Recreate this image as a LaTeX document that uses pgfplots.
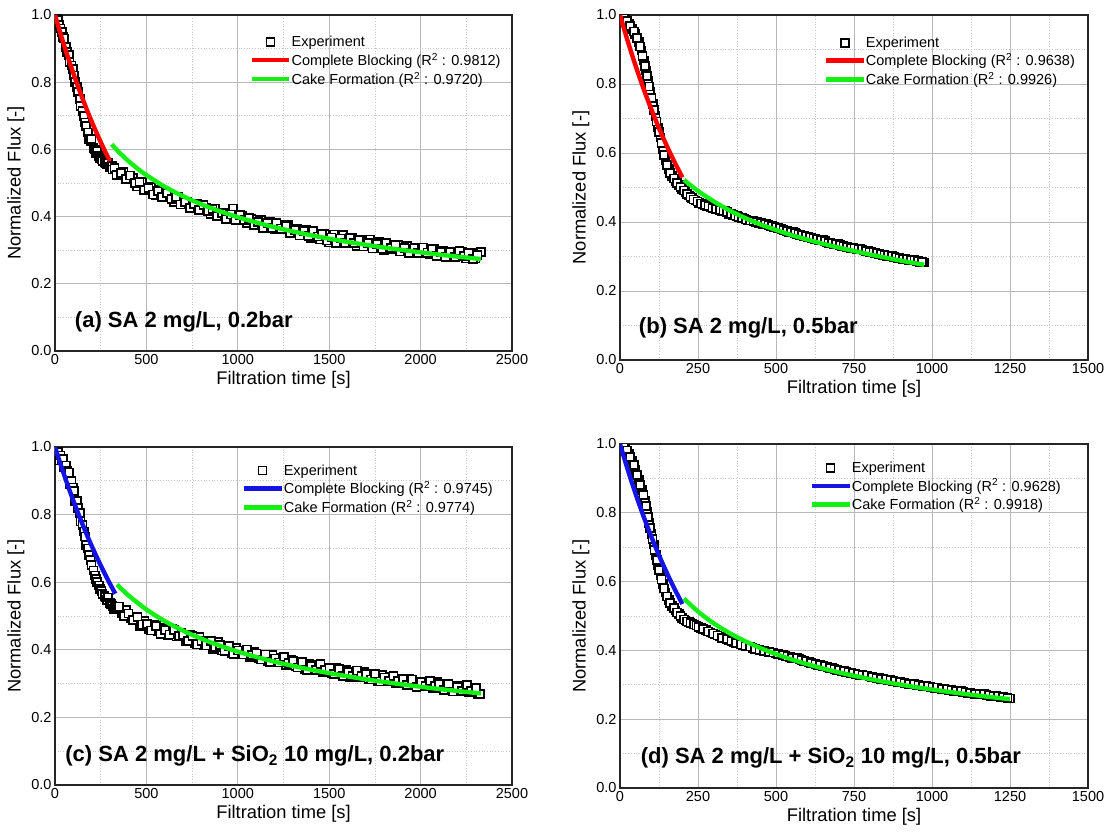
\documentclass[border=0pt]{standalone}
\usepackage{fontspec}
\setmainfont{Liberation Sans}
\usepackage{pgfplots}
\pgfplotsset{compat=1.18}
\definecolor{myred}{RGB}{255,0,0}
\definecolor{mygreen}{RGB}{20,240,20}
\definecolor{myblue}{RGB}{20,20,230}
\tikzset{plabel/.style={anchor=west, font=\fontsize{22}{25}\selectfont\bfseries}}
\pgfplotsset{
 panel/.style={
  scale only axis,
  ymin=0, ymax=1,
  ytick={0,0.2,0.4,0.6,0.8,1.0},
  minor x tick num=1, minor y tick num=1,
  grid=both,
  major grid style={draw=black!28, line width=0.9pt},
  minor grid style={draw=black!22, line width=0.7pt, dotted},
  major tick length=0pt, minor tick length=0pt,
  axis line style={draw=black!85, line width=1.4pt},
  tick label style={font=\fontsize{14.5}{16}\selectfont},
  /pgf/number format/assume math mode=true,
  yticklabel style={/pgf/number format/.cd, fixed, fixed zerofill, precision=1},
  xticklabel style={/pgf/number format/.cd, fixed, 1000 sep={}},
  label style={font=\fontsize{18.3}{21}\selectfont},
  xlabel={Filtration time [s]},
  ylabel={Normalized Flux [-]},
  clip marker paths=true,
  legend cell align=left,
  legend style={draw=none, fill=none, font=\fontsize{14.5}{16}\selectfont, anchor=north west, row sep=4pt, nodes={inner sep=0.5pt}},
  legend image code/.code={\draw[mark repeat=2,mark phase=2,##1] plot coordinates {(0pt,0pt)(18.5pt,0pt)(37pt,0pt)};},
 },
 exper/.style={only marks, mark=square*, mark size=4pt, mark options={fill=white, draw=black, line width=1.7pt}},
 fit/.style={line width=4.4pt, no marks, smooth},
}
\begin{document}
\begin{tikzpicture}
\path[use as bounding box] (0pt,0pt) rectangle (1111pt,831pt);

% ---------------- (a)
\begin{axis}[panel, at={(55pt,480pt)}, anchor=south west, width=457pt, height=336pt,
  xmin=0, xmax=2500, xtick={0,500,1000,1500,2000,2500},
  legend style={at={(0.419,0.945)}}]
\addplot[exper] coordinates {
(0,1.000)(7,0.990)(15,0.985)(20,0.970)(30,0.960)(37,0.950)(45,0.935)(50,0.930)(60,0.905)(67,0.890)
(75,0.880)(80,0.860)(90,0.850)(97,0.840)(105,0.820)(110,0.800)(120,0.785)(127,0.770)(135,0.750)
(140,0.730)(150,0.715)(157,0.700)(165,0.680)(170,0.670)(180,0.650)(187,0.630)(195,0.625)(200,0.630)
(210,0.605)(217,0.600)(225,0.590)(230,0.595)(240,0.580)(247,0.575)(255,0.570)(260,0.565)(270,0.562)
(277,0.560)(285,0.555)(290,0.560)(300,0.548)(310,0.550)(315,0.540)
(325,0.545)(350,0.522)(375,0.532)(400,0.511)(425,0.514)(450,0.490)(475,0.504)(500,0.479)(525,0.488)
(550,0.465)(575,0.479)(600,0.458)(625,0.465)(650,0.444)(675,0.459)(700,0.439)(725,0.445)(750,0.425)
(775,0.439)(800,0.420)(825,0.426)(850,0.407)(875,0.424)(900,0.402)(925,0.411)(950,0.391)(975,0.424)
(1000,0.391)(1025,0.401)(1050,0.380)(1075,0.392)(1100,0.375)(1125,0.390)(1150,0.371)(1175,0.384)
(1200,0.362)(1225,0.376)(1250,0.362)(1275,0.374)(1300,0.351)(1325,0.363)(1350,0.346)(1375,0.361)
(1400,0.336)(1425,0.350)(1450,0.332)(1475,0.348)(1500,0.323)(1525,0.347)(1550,0.326)(1575,0.346)
(1600,0.320)(1625,0.336)(1650,0.312)(1675,0.330)(1700,0.314)(1725,0.332)(1750,0.308)(1775,0.324)
(1800,0.300)(1825,0.316)(1850,0.304)(1875,0.315)(1900,0.297)(1925,0.313)(1950,0.296)(1975,0.308)
(2000,0.290)(2025,0.303)(2050,0.289)(2075,0.304)(2100,0.284)(2125,0.297)(2150,0.280)(2175,0.296)
(2200,0.281)(2225,0.294)(2250,0.275)(2275,0.292)(2300,0.275)(2330,0.295)
(337,0.523)(362,0.530)(387,0.511)(412,0.522)(437,0.501)(462,0.503)(487,0.479)(512,0.485)(537,0.466)
(562,0.476)(587,0.458)(612,0.471)(637,0.453)(662,0.458)(687,0.436)(712,0.443)(737,0.425)(762,0.437)
(787,0.420)(812,0.434)(837,0.417)(862,0.423)(887,0.402)(912,0.410)(937,0.393)(962,0.406)(987,0.390)
(1012,0.405)(1037,0.389)(1062,0.395)(1087,0.375)(1112,0.384)(1137,0.367)(1162,0.380)(1187,0.366)
(1212,0.381)(1237,0.365)(1262,0.372)(1287,0.352)(1312,0.361)(1337,0.344)(1362,0.357)(1387,0.342)
(1412,0.357)(1437,0.341)(1462,0.348)(1487,0.329)(1512,0.338)(1537,0.322)(1562,0.335)(1587,0.321)
(1612,0.337)(1637,0.322)(1662,0.330)(1687,0.311)(1712,0.321)(1737,0.305)(1762,0.319)(1787,0.305)
(1812,0.321)(1837,0.306)(1862,0.315)(1887,0.296)(1912,0.306)(1937,0.291)(1962,0.305)(1987,0.291)
(2012,0.308)(2037,0.293)(2062,0.302)(2087,0.283)(2112,0.294)(2137,0.279)(2162,0.293)(2187,0.280)
(2212,0.297)(2237,0.283)(2262,0.292)(2287,0.274)(2312,0.285)};
\addlegendentry{Experiment}
\addplot[fit, myred] coordinates {
(0,1)(25,0.9536)(50,0.9094)(75,0.8672)(100,0.8270)(125,0.7886)(150,0.7520)(175,0.7171)(200,0.6839)
(225,0.6522)(250,0.6219)(275,0.5930)(300,0.5655)};
\addlegendentry{Complete Blocking (R\textsuperscript{2} : 0.9812)}
\addplot[fit, mygreen] coordinates {
(310,0.615)(350,0.5918)(400,0.566)(450,0.5435)(500,0.5234)(600,0.4891)(700,0.4608)(800,0.4368)
(900,0.4163)(1000,0.3984)(1100,0.3826)(1200,0.3686)(1300,0.3560)(1400,0.3446)(1500,0.3343)
(1600,0.3248)(1700,0.3161)(1800,0.3080)(1900,0.3006)(2000,0.2936)(2100,0.2871)(2200,0.2810)(2330,0.2737)};
\addlegendentry{Cake Formation (R\textsuperscript{2} : 0.9720)}
\node[plabel] at (rel axis cs:0.036,0.086) {(a) SA 2 mg/L, 0.2bar};
\end{axis}

% ---------------- (b)
\begin{axis}[panel, at={(620pt,471pt)}, anchor=south west, width=468pt, height=345pt,
  xmin=0, xmax=1500, xtick={0,250,500,750,1000,1250,1500},
  legend style={at={(0.429,0.945)}}]
\addplot[exper] coordinates {
(0,1.000)(8,0.995)(17,0.989)(28,0.975)(39,0.960)(49,0.944)(60,0.921)(69,0.897)(76,0.868)(84,0.839)
(90,0.810)(97,0.776)(105,0.742)(114,0.708)(121,0.674)(130,0.645)(137,0.611)(146,0.578)(156,0.553)
(167,0.534)(178,0.519)(189,0.507)(199,0.496)(210,0.486)(221,0.477)(231,0.469)(242,0.462)
(4,0.998)(12,0.992)(22,0.982)(33,0.968)(44,0.952)(54,0.933)(64,0.909)(72,0.882)(80,0.853)(87,0.824)
(93,0.793)(101,0.759)(109,0.725)(117,0.691)(125,0.660)(133,0.628)(141,0.595)(151,0.565)(161,0.543)
(172,0.526)(183,0.513)(194,0.501)(204,0.491)(215,0.481)(226,0.473)(236,0.465)
(254,0.456)(266,0.452)(278,0.447)(290,0.444)(302,0.439)(314,0.436)(326,0.432)(338,0.431)(350,0.424)
(362,0.421)(374,0.417)(386,0.413)(398,0.410)(410,0.404)(422,0.404)(434,0.401)(446,0.398)(458,0.395)
(470,0.395)(482,0.389)(494,0.386)(506,0.382)(518,0.379)(530,0.375)(542,0.371)(554,0.370)(566,0.365)
(578,0.362)(590,0.359)(602,0.356)(614,0.353)(626,0.350)(638,0.347)(650,0.347)(662,0.341)(674,0.339)
(686,0.336)(698,0.336)(710,0.331)(722,0.329)(734,0.326)(746,0.324)(758,0.322)(770,0.322)(782,0.317)
(794,0.315)(806,0.313)(818,0.310)(830,0.307)(842,0.305)(854,0.302)(866,0.303)(878,0.298)(890,0.296)
(902,0.294)(914,0.292)(926,0.290)(938,0.291)(950,0.287)(962,0.285)(975,0.283)
(248,0.459)(260,0.454)(272,0.450)(284,0.446)(296,0.441)(308,0.437)(320,0.434)(332,0.432)(344,0.428)
(356,0.423)(368,0.419)(380,0.415)(392,0.412)(404,0.407)(416,0.404)(428,0.403)(440,0.400)(452,0.397)
(464,0.395)(476,0.392)(488,0.388)(500,0.384)(512,0.381)(524,0.377)(536,0.373)(548,0.371)(560,0.368)
(572,0.364)(584,0.361)(596,0.358)(608,0.355)(620,0.352)(632,0.349)(644,0.347)(656,0.344)(668,0.340)
(680,0.338)(692,0.336)(704,0.334)(716,0.330)(728,0.328)(740,0.325)(752,0.323)(764,0.322)(776,0.320)
(788,0.316)(800,0.314)(812,0.312)(824,0.309)(836,0.306)(848,0.304)(860,0.303)(872,0.301)(884,0.297)
(896,0.295)(908,0.293)(920,0.291)(932,0.290)(944,0.289)(956,0.286)(968,0.284)};
\addlegendentry{Experiment}
\addplot[fit, myred] coordinates {
(0,1)(20,0.9384)(40,0.8806)(60,0.8263)(80,0.7754)(100,0.7276)(120,0.6828)(140,0.6407)(160,0.6012)
(180,0.5642)(200,0.5294)};
\addlegendentry{Complete Blocking (R\textsuperscript{2} : 0.9638)}
\addplot[fit, mygreen] coordinates {
(205,0.522)(250,0.490)(300,0.460)(350,0.434)(400,0.412)(450,0.393)(500,0.377)(550,0.362)(600,0.349)
(650,0.337)(700,0.326)(750,0.316)(800,0.306)(850,0.297)(900,0.288)(975,0.276)};
\addlegendentry{Cake Formation (R\textsuperscript{2} : 0.9926)}
\node[plabel] at (rel axis cs:0.033,0.093) {(b) SA 2 mg/L, 0.5bar};
\end{axis}

% ---------------- (c)
\begin{axis}[panel, at={(55pt,46pt)}, anchor=south west, width=457pt, height=338pt,
  xmin=0, xmax=2500, xtick={0,500,1000,1500,2000,2500},
  legend style={at={(0.402,0.956)}}]
\addplot[exper] coordinates {
(0,1.000)(7,0.990)(15,0.985)(20,0.960)(30,0.975)(37,0.960)(45,0.965)(50,0.940)(60,0.945)(67,0.930)
(75,0.925)(80,0.890)(90,0.900)(97,0.880)(105,0.870)(110,0.840)(120,0.840)(127,0.820)(135,0.805)
(140,0.780)(150,0.770)(157,0.750)(165,0.735)(170,0.710)(180,0.700)(187,0.680)(195,0.665)(200,0.650)
(210,0.635)(217,0.620)(225,0.610)(230,0.600)(240,0.590)(247,0.580)(255,0.575)(260,0.565)(270,0.560)
(277,0.555)(285,0.548)(290,0.555)(300,0.538)(307,0.535)(315,0.530)(320,0.520)(330,0.525)
(340,0.528)(365,0.507)(390,0.518)(415,0.494)(440,0.497)(465,0.471)(490,0.485)(515,0.460)(540,0.474)
(565,0.454)(590,0.464)(615,0.443)(640,0.461)(665,0.439)(690,0.449)(715,0.427)(740,0.443)(765,0.421)
(790,0.437)(815,0.415)(840,0.425)(865,0.403)(890,0.423)(915,0.398)(940,0.409)(965,0.390)(990,0.406)
(1015,0.387)(1040,0.398)(1065,0.379)(1090,0.394)(1115,0.375)(1140,0.386)(1165,0.365)(1190,0.384)
(1215,0.363)(1240,0.375)(1265,0.356)(1290,0.371)(1315,0.352)(1340,0.364)(1365,0.343)(1390,0.359)
(1415,0.342)(1440,0.356)(1465,0.335)(1490,0.347)(1515,0.331)(1540,0.346)(1565,0.328)(1590,0.340)
(1615,0.320)(1640,0.336)(1665,0.320)(1690,0.334)(1715,0.314)(1740,0.326)(1765,0.308)(1790,0.326)
(1815,0.308)(1840,0.320)(1865,0.302)(1890,0.314)(1915,0.300)(1940,0.314)(1965,0.294)(1990,0.306)
(2015,0.293)(2040,0.305)(2065,0.287)(2090,0.304)(2115,0.286)(2140,0.298)(2165,0.280)(2190,0.293)
(2215,0.279)(2240,0.292)(2265,0.274)(2290,0.286)(2315,0.269)(2325,0.270)
(352,0.528)(377,0.501)(402,0.507)(427,0.489)(452,0.497)(477,0.475)(502,0.477)(527,0.457)(552,0.471)
(577,0.447)(602,0.458)(627,0.445)(652,0.459)(677,0.441)(702,0.445)(727,0.426)(752,0.440)(777,0.416)
(802,0.426)(827,0.413)(852,0.427)(877,0.409)(902,0.414)(927,0.396)(952,0.411)(977,0.387)(1002,0.398)
(1027,0.386)(1052,0.401)(1077,0.384)(1102,0.389)(1127,0.371)(1152,0.386)(1177,0.363)(1202,0.374)
(1227,0.362)(1252,0.378)(1277,0.361)(1302,0.366)(1327,0.348)(1352,0.364)(1377,0.341)(1402,0.353)
(1427,0.341)(1452,0.357)(1477,0.340)(1502,0.346)(1527,0.329)(1552,0.344)(1577,0.322)(1602,0.334)
(1627,0.323)(1652,0.339)(1677,0.323)(1702,0.329)(1727,0.312)(1752,0.328)(1777,0.306)(1802,0.318)
(1827,0.307)(1852,0.323)(1877,0.307)(1902,0.313)(1927,0.296)(1952,0.312)(1977,0.290)(2002,0.303)
(2027,0.292)(2052,0.308)(2077,0.293)(2102,0.299)(2127,0.282)(2152,0.298)(2177,0.277)(2202,0.289)
(2227,0.279)(2252,0.295)(2277,0.279)(2302,0.286)};
\addlegendentry{Experiment}
\addplot[fit, myblue] coordinates {
(0,1)(25,0.9578)(50,0.9174)(75,0.8786)(100,0.8416)(125,0.8061)(150,0.7720)(175,0.7394)(200,0.7082)
(225,0.6784)(250,0.6497)(275,0.6223)(300,0.5960)(330,0.5659)};
\addlegendentry{Complete Blocking (R\textsuperscript{2} : 0.9745)}
\addplot[fit, mygreen] coordinates {
(340,0.5931)(400,0.5618)(500,0.5192)(600,0.4850)(700,0.4567)(800,0.4329)(900,0.4125)(1000,0.3947)
(1100,0.3790)(1200,0.3651)(1300,0.3525)(1400,0.3412)(1500,0.3310)(1600,0.3215)(1700,0.3129)
(1800,0.3049)(1900,0.2975)(2000,0.2906)(2100,0.2842)(2200,0.2782)(2330,0.2709)};
\addlegendentry{Cake Formation (R\textsuperscript{2} : 0.9774)}
\node[plabel] at (rel axis cs:0.015,0.086) {(c) SA 2 mg/L + SiO\textsubscript{2} 10 mg/L, 0.2bar};
\end{axis}

% ---------------- (d)
\begin{axis}[panel, at={(620pt,43pt)}, anchor=south west, width=468pt, height=344pt,
  xmin=0, xmax=1500, xtick={0,250,500,750,1000,1250,1500},
  legend style={at={(0.399,0.956)}}]
\addplot[exper] coordinates {
(0,1.000)(8,0.996)(17,0.990)(28,0.971)(39,0.952)(49,0.924)(60,0.895)(71,0.866)(79,0.835)(87,0.803)
(94,0.771)(101,0.739)(108,0.708)(115,0.677)(122,0.648)(130,0.619)(137,0.593)(146,0.568)(156,0.547)
(167,0.530)(178,0.516)(189,0.505)(199,0.494)(210,0.487)(221,0.482)(231,0.478)
(4,0.998)(12,0.993)(22,0.981)(33,0.962)(44,0.938)(54,0.910)(65,0.881)(75,0.851)(83,0.819)(90,0.787)
(97,0.755)(104,0.723)(111,0.692)(118,0.662)(126,0.633)(133,0.606)(141,0.580)(151,0.557)(161,0.538)
(172,0.523)(183,0.510)(194,0.499)(204,0.490)(215,0.484)(226,0.480)(238,0.475)
(245,0.472)(260,0.466)(275,0.459)(290,0.452)(305,0.446)(320,0.440)(335,0.435)(350,0.430)(365,0.425)
(380,0.420)(395,0.415)(410,0.411)(425,0.407)(440,0.403)(455,0.400)(470,0.397)(485,0.394)(500,0.391)
(515,0.388)(530,0.384)(545,0.380)(560,0.377)(575,0.374)(590,0.370)(605,0.366)(620,0.362)(635,0.358)
(650,0.355)(665,0.351)(680,0.348)(695,0.344)(710,0.341)(725,0.338)(740,0.335)(755,0.332)(770,0.329)
(785,0.327)(800,0.324)(815,0.321)(830,0.319)(845,0.316)(860,0.314)(875,0.311)(890,0.309)(905,0.307)
(920,0.304)(935,0.302)(950,0.300)(965,0.298)(980,0.296)(995,0.294)(1010,0.291)(1025,0.289)(1040,0.287)
(1055,0.285)(1070,0.283)(1085,0.281)(1100,0.279)(1115,0.277)(1130,0.275)(1145,0.274)(1160,0.272)
(1175,0.270)(1190,0.268)(1205,0.267)(1220,0.265)(1235,0.263)(1250,0.260)
(252,0.469)(267,0.462)(282,0.455)(297,0.449)(312,0.443)(327,0.437)(342,0.434)(357,0.427)(372,0.422)
(387,0.417)(402,0.413)(417,0.411)(432,0.405)(447,0.401)(462,0.398)(477,0.395)(492,0.394)(507,0.389)
(522,0.386)(537,0.382)(552,0.378)(567,0.377)(582,0.372)(597,0.368)(612,0.364)(627,0.360)(642,0.358)
(657,0.353)(672,0.349)(687,0.346)(702,0.342)(717,0.341)(732,0.336)(747,0.333)(762,0.330)(777,0.328)
(792,0.327)(807,0.322)(822,0.320)(837,0.317)(852,0.315)(867,0.314)(882,0.310)(897,0.308)(912,0.305)
(927,0.303)(942,0.303)(957,0.299)(972,0.297)(987,0.295)(1002,0.292)(1017,0.292)(1032,0.288)(1047,0.286)
(1062,0.284)(1077,0.282)(1092,0.282)(1107,0.278)(1122,0.276)(1137,0.274)(1152,0.273)(1167,0.273)
(1182,0.269)(1197,0.267)(1212,0.266)(1227,0.264)(1242,0.261)};
\addlegendentry{Experiment}
\addplot[fit, myblue] coordinates {
(0,1)(20,0.9394)(40,0.8824)(60,0.8289)(80,0.7787)(100,0.7315)(120,0.6871)(140,0.6455)(160,0.6063)
(180,0.5696)(200,0.5350)};
\addlegendentry{Complete Blocking (R\textsuperscript{2} : 0.9628)}
\addplot[fit, mygreen] coordinates {
(205,0.5508)(250,0.5130)(300,0.4789)(350,0.4508)(400,0.4272)(450,0.4069)(500,0.3892)(550,0.3737)
(600,0.3599)(650,0.3475)(700,0.3363)(750,0.3262)(800,0.3169)(850,0.3083)(900,0.3004)(950,0.2931)
(1000,0.2863)(1050,0.2799)(1100,0.2740)(1150,0.2684)(1200,0.2632)(1250,0.2582)};
\addlegendentry{Cake Formation (R\textsuperscript{2} : 0.9918)}
\node[plabel] at (rel axis cs:0.037,0.087) {(d) SA 2 mg/L + SiO\textsubscript{2} 10 mg/L, 0.5bar};
\end{axis}
\end{tikzpicture}
\end{document}
